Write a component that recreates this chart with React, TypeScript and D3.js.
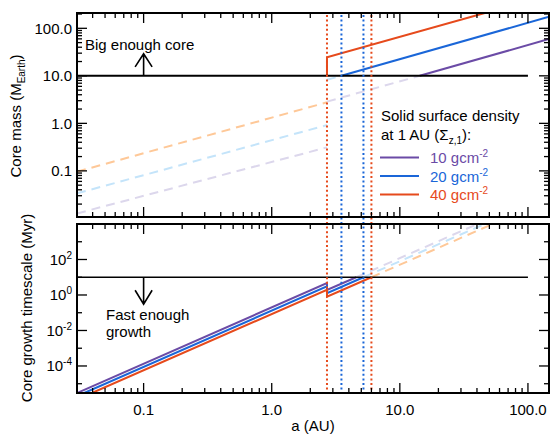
import React, { useRef, useEffect } from 'react';
import * as d3 from 'd3';

const W = 554;
const H = 435;

// series: solid surface density at 1 AU
const sigmaLabels = ["10", "20", "40"];
const lineColors = ["#6b4ba6", "#1a66d8", "#e64a1c"];
const fadedColors = ["#dcd7ec", "#c4e4fa", "#fec898"];

// core mass (M_Earth) vs a (AU)
const massSolid = [
    [[14.3, 10], [146, 59.6]],
    [[3.5, 10], [146, 175]],
    [[2.7, 10], [2.7, 24.5], [46, 210]],
];
const massFaded = [
    [[[0.0302, 0.0127], [2.7, 0.312]], [[2.7, 2.87], [14.3, 10]]],
    [[[0.0302, 0.0336], [2.7, 0.92]], [[2.7, 8.3], [3.5, 10]]],
    [[[0.0302, 0.096], [2.7, 2.77]]],
];

// core growth timescale (Myr) vs a (AU)
const timeSolid = [
    [[0.0302, 3e-6], [2.7, 4.66], [2.7, 1.9], [4.57, 10]],
    [[0.0344, 3e-6], [2.7, 3.07], [2.7, 1.26], [5.2, 10]],
    [[0.0395, 3e-6], [2.7, 1.98], [2.7, 0.8], [6.0, 10]],
];
const timeFaded = [
    [[4.57, 10], [40.4, 1e4]],
    [[5.2, 10], [45.9, 1e4]],
    [[6.0, 10], [53, 1e4]],
];

// allowed zones (dotted vertical lines)
const zoneLines = [
    { a: 2.7, color: 2 },
    { a: 3.5, color: 1 },
    { a: 5.2, color: 1 },
    { a: 6.0, color: 2 },
];

const massThreshold = 10;
const timeThreshold = 10;
const thresholdRange = [0.0302, 100];

const xTicks = [0.1, 1, 10, 100];
const xTickLabels = ["0.1", "1.0", "10.0", "100.0"];
const massTicks = [0.1, 1, 10, 100];
const massTickLabels = ["0.1", "1.0", "10.0", "100.0"];
const timeTicks = [1e-4, 1e-2, 1, 1e2];
const timeTickExp = ["-4", "-2", "0", "2"];

const FONT = "'Liberation Sans', Arial, Helvetica, sans-serif";

const App = () => {
    const svgRef = useRef<SVGSVGElement>(null);

    useEffect(() => {
        const svg = d3.select(svgRef.current);
        svg.selectAll("*").remove();

        const left = 77, right = 549;
        const top1 = 13, bot1 = 217;
        const top2 = 224, bot2 = 393;

        const x = d3.scaleLog().domain([0.0302, 146]).range([left, right]);
        const yM = d3.scaleLog().domain([0.0107, 210]).range([bot1, top1]);
        const yT = d3.scaleLog().domain([3e-6, 1e4]).range([bot2, top2]);

        const defs = svg.append("defs");
        defs.append("clipPath").attr("id", "clip1")
            .append("rect").attr("x", left).attr("y", top1).attr("width", right - left).attr("height", bot1 - top1);
        defs.append("clipPath").attr("id", "clip2")
            .append("rect").attr("x", left).attr("y", top2).attr("width", right - left).attr("height", bot2 - top2);

        const lineM = d3.line<number[]>().x(d => x(d[0])).y(d => yM(d[1]));
        const lineT = d3.line<number[]>().x(d => x(d[0])).y(d => yT(d[1]));

        // faded dashed parts
        const g1 = svg.append("g").attr("clip-path", "url(#clip1)");
        massFaded.forEach((segs, i) => {
            segs.forEach(seg => {
                g1.append("path").attr("d", lineM(seg as number[][]))
                    .attr("fill", "none").attr("stroke", fadedColors[i])
                    .attr("stroke-width", 2).attr("stroke-dasharray", "9,6");
            });
        });
        const g2 = svg.append("g").attr("clip-path", "url(#clip2)");
        timeFaded.forEach((seg, i) => {
            g2.append("path").attr("d", lineT(seg as number[][]))
                .attr("fill", "none").attr("stroke", fadedColors[i])
                .attr("stroke-width", 2).attr("stroke-dasharray", "9,6");
        });

        // threshold lines
        svg.append("line")
            .attr("x1", x(thresholdRange[0])).attr("x2", x(thresholdRange[1]))
            .attr("y1", yM(massThreshold)).attr("y2", yM(massThreshold))
            .attr("stroke", "#000").attr("stroke-width", 2);
        svg.append("line")
            .attr("x1", x(thresholdRange[0])).attr("x2", x(thresholdRange[1]))
            .attr("y1", yT(timeThreshold)).attr("y2", yT(timeThreshold))
            .attr("stroke", "#000").attr("stroke-width", 1.6);

        // dotted zone lines through both panels
        zoneLines.forEach(z => {
            svg.append("line")
                .attr("x1", x(z.a)).attr("x2", x(z.a))
                .attr("y1", top1 + 2).attr("y2", bot2)
                .attr("stroke", lineColors[z.color]).attr("stroke-width", 2)
                .attr("stroke-dasharray", "2,2.6");
        });

        // solid lines
        massSolid.forEach((seg, i) => {
            g1.append("path").attr("d", lineM(seg as number[][]))
                .attr("fill", "none").attr("stroke", lineColors[i]).attr("stroke-width", 2);
        });
        timeSolid.forEach((seg, i) => {
            g2.append("path").attr("d", lineT(seg as number[][]))
                .attr("fill", "none").attr("stroke", lineColors[i]).attr("stroke-width", 2);
        });

        // frames
        [[top1, bot1], [top2, bot2]].forEach(([t, b]) => {
            svg.append("rect").attr("x", left).attr("y", t)
                .attr("width", right - left).attr("height", b - t)
                .attr("fill", "none").attr("stroke", "#000").attr("stroke-width", 2);
        });

        const tick = (x1: number, y1: number, x2: number, y2: number) =>
            svg.append("line").attr("x1", x1).attr("y1", y1).attr("x2", x2).attr("y2", y2)
                .attr("stroke", "#000").attr("stroke-width", 1.3);

        // x ticks on every horizontal edge
        const xMinor: number[] = [];
        for (let e = -2; e <= 2; e++) {
            for (let k = 1; k <= 9; k++) {
                const v = k * Math.pow(10, e);
                if (v > 0.0302 && v < 146) xMinor.push(v);
            }
        }
        [[top1, 1], [bot1, -1], [top2, 1], [bot2, -1]].forEach(([yy, dir]) => {
            xMinor.forEach(v => {
                const major = xTicks.some(t => Math.abs(t - v) / t < 1e-6);
                const len = major ? 10 : 5;
                tick(x(v), yy, x(v), yy + dir * len);
            });
        });

        // mass y ticks
        const mMinor: number[] = [];
        for (let e = -2; e <= 2; e++) {
            for (let k = 1; k <= 9; k++) {
                const v = k * Math.pow(10, e);
                if (v > 0.0107 && v < 210) mMinor.push(v);
            }
        }
        mMinor.forEach(v => {
            const major = massTicks.some(t => Math.abs(t - v) / t < 1e-6);
            const len = major ? 10 : 5;
            tick(left, yM(v), left + len, yM(v));
            tick(right, yM(v), right - len, yM(v));
        });

        // time y ticks
        for (let e = -5; e <= 3; e++) {
            const v = Math.pow(10, e);
            const len = e % 2 === 0 ? 10 : 5;
            tick(left, yT(v), left + len, yT(v));
            tick(right, yT(v), right - len, yT(v));
        }

        const text = (tx: number, ty: number, s: string, anchor = "start", size = 15) =>
            svg.append("text").attr("x", tx).attr("y", ty).attr("text-anchor", anchor)
                .attr("font-family", FONT).attr("font-size", size).attr("fill", "#000").text(s);

        massTicks.forEach((v, i) => text(72, yM(v) + 5.5, massTickLabels[i], "end"));
        timeTicks.forEach((v, i) => {
            const t = svg.append("text").attr("x", 72).attr("y", yT(v) + 5.5).attr("text-anchor", "end")
                .attr("font-family", FONT).attr("font-size", 15).attr("fill", "#000");
            t.append("tspan").text("10");
            t.append("tspan").attr("dy", -6).attr("font-size", 10).text(timeTickExp[i]);
        });
        xTicks.forEach((v, i) => text(x(v), 415, xTickLabels[i], "middle"));
        text(313, 431, "a (AU)", "middle");

        // y labels
        const yl1 = svg.append("text").attr("transform", "translate(21,116) rotate(-90)")
            .attr("text-anchor", "middle").attr("font-family", FONT).attr("font-size", 15).attr("fill", "#000");
        yl1.append("tspan").text("Core mass (M");
        yl1.append("tspan").attr("dy", 4).attr("font-size", 10).text("Earth");
        yl1.append("tspan").attr("dy", -4).text(")");
        svg.append("text").attr("transform", "translate(32,308) rotate(-90)")
            .attr("text-anchor", "middle").attr("font-family", FONT).attr("font-size", 15).attr("fill", "#000")
            .text("Core growth timescale (Myr)");

        // annotations
        text(85, 50, "Big enough core");
        const ax = x(0.1);
        const arrowUp = yM(massThreshold);
        svg.append("path")
            .attr("d", `M${ax},${arrowUp} L${ax},${arrowUp - 22} M${ax - 8.5},${arrowUp - 9} L${ax},${arrowUp - 22} L${ax + 8.5},${arrowUp - 9}`)
            .attr("fill", "none").attr("stroke", "#000").attr("stroke-width", 1.6);
        const arrowDn = yT(timeThreshold);
        svg.append("path")
            .attr("d", `M${ax},${arrowDn} L${ax},${arrowDn + 27} M${ax - 8.5},${arrowDn + 13} L${ax},${arrowDn + 27} L${ax + 8.5},${arrowDn + 13}`)
            .attr("fill", "none").attr("stroke", "#000").attr("stroke-width", 1.6);
        text(106, 320, "Fast enough");
        text(106, 337, "growth");

        // legend
        text(381, 121, "Solid surface density");
        const lt = svg.append("text").attr("x", 381).attr("y", 140)
            .attr("font-family", FONT).attr("font-size", 15).attr("fill", "#000");
        lt.append("tspan").text("at 1 AU (Σ");
        lt.append("tspan").attr("dy", 4).attr("font-size", 10).text("z,1");
        lt.append("tspan").attr("dy", -4).text("):");
        sigmaLabels.forEach((s, i) => {
            const ly = 157.5 + i * 18.5;
            svg.append("line").attr("x1", 380).attr("x2", 419).attr("y1", ly).attr("y2", ly)
                .attr("stroke", lineColors[i]).attr("stroke-width", 2);
            const t = svg.append("text").attr("x", 430).attr("y", ly + 5.5)
                .attr("font-family", FONT).attr("font-size", 15).attr("fill", lineColors[i]);
            t.append("tspan").text(`${s} gcm`);
            t.append("tspan").attr("dy", -6).attr("font-size", 10).text("-2");
        });
    }, []);

    return (
        <svg ref={svgRef} width={W} height={H}
            style={{ position: "absolute", left: 0, top: 0, background: "#fff" }} />
    );
};

export default App;
